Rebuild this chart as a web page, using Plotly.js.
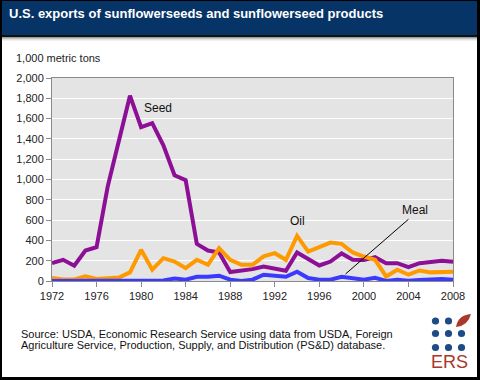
<!DOCTYPE html>
<html>
<head>
<meta charset="utf-8">
<script src="https://cdn.plot.ly/plotly-3.0.1.min.js"></script>
<style>
html,body{margin:0;padding:0;background:#fff;}
#chart{width:480px;height:380px;}
</style>
</head>
<body>
<div id="chart"></div>
<script>
var years = [1972,1973,1974,1975,1976,1977,1978,1979,1980,1981,1982,1983,1984,1985,1986,1987,1988,1989,1990,
  1991,1992,1993,1994,1995,1996,1997,1998,1999,2000,2001,2002,2003,2004,2005,2006,2007,2008];
var seed = [176,209,150,300,333,930,1380,1826,1516,1555,1336,1042,993,366,300,280,88,101,117,
  143,125,101,281,219,153,192,271,209,206,235,176,176,137,176,189,199,189];
var oil = [29,15,15,45,20,25,35,85,307,111,225,192,127,209,160,323,209,160,160,
  242,274,209,444,290,330,379,366,281,241,209,45,111,62,104,85,85,92];
var meal = [0,0,0,0,0,0,0,0,0,0,5,25,13,42,42,52,13,0,13,
  62,49,42,91,29,13,13,42,25,13,32,0,13,3,10,13,20,13];
var seriesNames = ["Seed","Oil","Meal"];
var yTickVals = [0,200,400,600,800,1000,1200,1400,1600,1800,2000];
var yTickText = ["0","200","400","600","800","1,000","1,200","1,400","1,600","1,800","2,000"];
var xTickVals = [1972,1976,1980,1984,1988,1992,1996,2000,2004,2008];

var L=52, R=27, T=78, B=99, W=480, H=380;
var PW=W-L-R, PH=H-T-B;
function px(x){return (x-L)/PW;}
function py(y){return (H-B-y)/PH;}
function rectPx(x0,y0,x1,y1,color){
  return {type:'rect',xref:'paper',yref:'paper',x0:px(x0),x1:px(x1),y0:py(y1),y1:py(y0),
    fillcolor:color,line:{width:0},layer:'above'};
}
function circPx(cx,cy,r,color){
  return {type:'circle',xref:'paper',yref:'paper',x0:px(cx-r),x1:px(cx+r),y0:py(cy+r),y1:py(cy-r),
    fillcolor:color,line:{width:0},layer:'above'};
}
function P(x,y){return px(x).toFixed(4)+','+py(y).toFixed(4);}

var dotC = '#1d4b84';
var shapes = [
  rectPx(0,0,480,35,'#073466'),
  rectPx(0,35,480,37,'#111111'),
  rectPx(0,37,480,38,'#9a9a9a'),
  rectPx(0,38,480,39,'#c4c4c4'),
  rectPx(0,39,480,40,'#e0e0e0'),
  rectPx(0,40,480,41,'#f0f0f0'),
  rectPx(0,0,2,380,'#000'),
  rectPx(477,0,480,380,'#000'),
  rectPx(0,377,480,380,'#000'),
  rectPx(0,0,480,1,'#000'),
  circPx(435.5,321,3.6,dotC), circPx(448.5,321,3.6,dotC),
  circPx(435.5,333.5,3.6,dotC), circPx(448.5,333.5,3.6,dotC), circPx(461.5,333.5,3.6,dotC),
  circPx(435.5,347.5,3.6,dotC), circPx(448.5,347.5,3.6,dotC), circPx(461.5,347.5,3.6,dotC),
  {type:'path',xref:'paper',yref:'paper',layer:'above',fillcolor:'#a8392b',line:{width:0},
   path:'M'+P(456,327)+' Q'+P(458,315)+' '+P(471,314)+' Q'+P(468,326)+' '+P(456,327)+' Z'},
  {type:'line',xref:'x',yref:'y',x0:1998.35,y0:69,x1:2004.0,y1:608,line:{color:'#000',width:1},layer:'above'}
];

var font = 'Liberation Sans, Arial, sans-serif';
var annotations = [
  {xref:'paper',yref:'paper',x:px(7),y:py(13),xanchor:'left',yanchor:'middle',showarrow:false,
   text:'<b>U.S. exports of sunflowerseeds and sunflowerseed products</b>',font:{family:font,size:13,color:'#fff'}},
  {xref:'paper',yref:'paper',x:px(14),y:py(58),xanchor:'left',yanchor:'middle',showarrow:false,
   text:'1,000 metric tons',font:{family:font,size:11,color:'#222'}},
  {xref:'x',yref:'y',x:1981.5,y:1702,showarrow:false,text:'Seed',font:{family:font,size:12,color:'#111'}},
  {xref:'x',yref:'y',x:1994.0,y:594,showarrow:false,text:'Oil',font:{family:font,size:12,color:'#111'}},
  {xref:'x',yref:'y',x:2004.6,y:699,showarrow:false,text:'Meal',font:{family:font,size:12,color:'#111'}},
  {xref:'paper',yref:'paper',x:px(19),y:py(333.5),xanchor:'left',yanchor:'middle',showarrow:false,
   text:'Source: USDA, Economic Research Service using data from USDA, Foreign',font:{family:font,size:11,color:'#111'}},
  {xref:'paper',yref:'paper',x:px(19),y:py(345),xanchor:'left',yanchor:'middle',showarrow:false,
   text:'Agriculture Service, Production, Supply, and Distribution (PS&amp;D) database.',font:{family:font,size:11,color:'#111'}},
  {xref:'paper',yref:'paper',x:px(449),y:py(361.5),xanchor:'center',yanchor:'middle',showarrow:false,
   text:'ERS',font:{family:font,size:18,color:'#a8392b'}}
];

var data = [
  {x:years,y:seed,name:seriesNames[0],type:'scatter',mode:'lines',line:{color:'#8c0f96',width:4}},
  {x:years,y:oil,name:seriesNames[1],type:'scatter',mode:'lines',line:{color:'#ff9900',width:4}},
  {x:years,y:meal,name:seriesNames[2],type:'scatter',mode:'lines',line:{color:'#3a3aff',width:4}}
];

var layout = {
  width:W,height:H,
  margin:{l:L,r:R,t:T,b:B,pad:0},
  paper_bgcolor:'#fff',plot_bgcolor:'#e4e4e4',
  showlegend:false,
  font:{family:font,size:11,color:'#222'},
  xaxis:{range:[1972,2008],tickvals:xTickVals,ticktext:xTickVals.map(String),showgrid:false,zeroline:false,
    showline:true,mirror:true,linecolor:'#8a8a8a',linewidth:1,ticks:'outside',ticklen:5,tickcolor:'#8a8a8a',
    tickfont:{family:font,size:11,color:'#222'},fixedrange:true},
  yaxis:{range:[0,2000],tickvals:yTickVals,ticktext:yTickText,showgrid:true,gridcolor:'#fff',gridwidth:1,zeroline:false,
    showline:true,mirror:true,linecolor:'#8a8a8a',linewidth:1,ticks:'outside',ticklen:5,tickcolor:'#8a8a8a',
    tickfont:{family:font,size:11,color:'#222'},fixedrange:true},
  shapes:shapes,
  annotations:annotations
};
Plotly.newPlot('chart',data,layout,{displayModeBar:false,staticPlot:true});
</script>
</body>
</html>
